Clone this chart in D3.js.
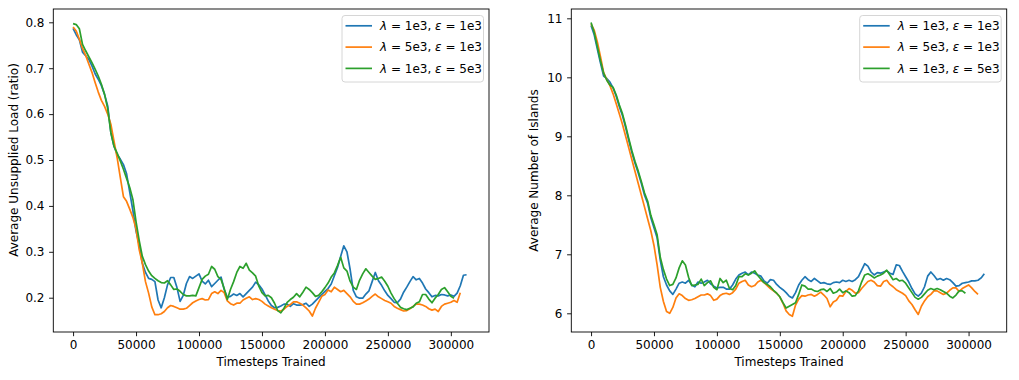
<!DOCTYPE html>
<html>
<head>
<meta charset="utf-8">
<script src="https://cdn.jsdelivr.net/npm/d3@7/dist/d3.min.js"></script>
<style>
  body { margin: 0; background: #fff; }
  svg { display: block; font-family: "DejaVu Sans", sans-serif; }
</style>
</head>
<body>
<div id="chart"></div>
<script>
var width = 1019, height = 380;

// one logged point every STEP timesteps, first one at 0
var STEP = 2500;

// legend parts: lambda and epsilon per run
var lambdaVals = ["1e3", "5e3", "1e3"];
var epsVals    = ["1e3", "1e3", "5e3"];
var colors = ["#1f77b4", "#ff7f0e", "#2ca02c"];

var xTicks = [0, 50000, 100000, 150000, 200000, 250000, 300000];
var loadTicks = [0.2, 0.3, 0.4, 0.5, 0.6, 0.7, 0.8];
var islandTicks = [6, 7, 8, 9, 10, 11];

// ---- average unsupplied load (ratio) ----
var loadBlue = [
  0.787, 0.773, 0.762, 0.735, 0.727, 0.719, 0.705, 0.688, 0.676, 0.662,
  0.643, 0.618, 0.560, 0.530, 0.512, 0.502, 0.490, 0.470, 0.430, 0.390,
  0.345, 0.315, 0.275, 0.255, 0.242, 0.240, 0.235, 0.195, 0.178, 0.200,
  0.228, 0.244, 0.244, 0.222, 0.192, 0.205, 0.231, 0.246, 0.242, 0.247,
  0.252, 0.236, 0.230, 0.238, 0.224, 0.231, 0.238, 0.245, 0.218, 0.201,
  0.203, 0.208, 0.205, 0.209, 0.202, 0.209, 0.216, 0.223, 0.234, 0.228,
  0.219, 0.206, 0.193, 0.183, 0.178, 0.179, 0.182, 0.186, 0.186, 0.181,
  0.187, 0.184, 0.184, 0.185, 0.188, 0.181, 0.186, 0.193, 0.200, 0.207,
  0.214, 0.220, 0.230, 0.248, 0.266, 0.290, 0.313, 0.300, 0.262, 0.216,
  0.202, 0.199, 0.199, 0.208, 0.215, 0.235, 0.255, 0.237, 0.227, 0.215,
  0.205, 0.198, 0.190, 0.189, 0.197, 0.212, 0.223, 0.235, 0.246, 0.239,
  0.242, 0.232, 0.219, 0.211, 0.202, 0.205, 0.204, 0.207, 0.206, 0.204,
  0.206, 0.203, 0.210, 0.226, 0.249, 0.250
];
var loadOrange = [
  0.790, 0.781, 0.763, 0.743, 0.728, 0.709, 0.691, 0.669, 0.648, 0.630,
  0.617, 0.600, 0.578, 0.541, 0.505, 0.462, 0.420, 0.410, 0.393, 0.375,
  0.350, 0.305, 0.275, 0.235, 0.210, 0.180, 0.163, 0.163, 0.165, 0.170,
  0.178, 0.183, 0.181, 0.178, 0.175, 0.175, 0.177, 0.183, 0.189, 0.193,
  0.196, 0.198, 0.195, 0.196, 0.209, 0.213, 0.209, 0.216, 0.211, 0.193,
  0.187, 0.184, 0.188, 0.188, 0.195, 0.199, 0.202, 0.196, 0.198, 0.196,
  0.192, 0.186, 0.182, 0.178, 0.175, 0.172, 0.171, 0.175, 0.181, 0.185,
  0.191, 0.191, 0.188, 0.184, 0.178, 0.171, 0.160, 0.177, 0.190, 0.203,
  0.207, 0.217, 0.213, 0.223, 0.218, 0.213, 0.216, 0.209, 0.202, 0.192,
  0.186, 0.186, 0.189, 0.193, 0.197, 0.203, 0.208, 0.202, 0.198, 0.194,
  0.191, 0.188, 0.181, 0.177, 0.174, 0.171, 0.172, 0.176, 0.181, 0.186,
  0.186, 0.184, 0.181, 0.176, 0.173, 0.175, 0.170, 0.181, 0.186, 0.188,
  0.190, 0.194, 0.190, 0.211
];
var loadGreen = [
  0.797, 0.795, 0.786, 0.752, 0.738, 0.725, 0.712, 0.698, 0.683, 0.665,
  0.643, 0.612, 0.560, 0.530, 0.515, 0.498, 0.480, 0.460, 0.440, 0.414,
  0.366, 0.325, 0.290, 0.272, 0.258, 0.248, 0.242, 0.237, 0.233, 0.232,
  0.237, 0.228, 0.218, 0.219, 0.214, 0.207, 0.204, 0.204, 0.205, 0.204,
  0.222, 0.240, 0.247, 0.251, 0.268, 0.262, 0.246, 0.240, 0.220, 0.196,
  0.218, 0.235, 0.255, 0.268, 0.264, 0.275, 0.260, 0.254, 0.247, 0.225,
  0.211, 0.204, 0.205, 0.200, 0.188, 0.172, 0.167, 0.177, 0.190, 0.196,
  0.201, 0.209, 0.202, 0.212, 0.223, 0.218, 0.211, 0.203, 0.205, 0.213,
  0.222, 0.232, 0.245, 0.254, 0.270, 0.288, 0.265, 0.258, 0.236, 0.223,
  0.218, 0.238, 0.252, 0.263, 0.255, 0.247, 0.240, 0.242, 0.245, 0.236,
  0.225, 0.210, 0.198, 0.188, 0.179, 0.176, 0.174, 0.177, 0.180, 0.188,
  0.191, 0.207, 0.207, 0.197, 0.189, 0.199, 0.207, 0.218, 0.222, 0.213,
  0.203, 0.199
];

// ---- average number of islands ----
var islandsBlue = [
  10.88, 10.72, 10.48, 10.24, 10.02, 9.98, 9.92, 9.82, 9.68, 9.50,
  9.35, 9.15, 8.93, 8.72, 8.54, 8.38, 8.20, 8.00, 7.86, 7.62,
  7.45, 7.28, 6.90, 6.62, 6.48, 6.38, 6.32, 6.41, 6.51, 6.53,
  6.51, 6.56, 6.48, 6.45, 6.53, 6.51, 6.53, 6.56, 6.50, 6.46,
  6.43, 6.44, 6.44, 6.41, 6.41, 6.48, 6.58, 6.65, 6.68, 6.70,
  6.65, 6.70, 6.68, 6.65, 6.63, 6.55, 6.51, 6.57, 6.56, 6.49,
  6.44, 6.40, 6.35, 6.29, 6.26, 6.35, 6.48, 6.56, 6.62, 6.57,
  6.54, 6.59, 6.55, 6.51, 6.52, 6.50, 6.49, 6.52, 6.53, 6.52,
  6.56, 6.54, 6.56, 6.54, 6.57, 6.62, 6.73, 6.84, 6.80, 6.70,
  6.65, 6.69, 6.68, 6.70, 6.72, 6.68, 6.66, 6.82, 6.81, 6.71,
  6.62, 6.53, 6.42, 6.33, 6.29, 6.34, 6.45, 6.63, 6.70, 6.64,
  6.57, 6.59, 6.56, 6.59, 6.57, 6.52, 6.46, 6.47, 6.51, 6.52,
  6.53, 6.55, 6.55, 6.56, 6.60, 6.67
];
var islandsOrange = [
  10.90, 10.80, 10.60, 10.35, 10.08, 9.96, 9.86, 9.72, 9.55, 9.38,
  9.20, 9.00, 8.80, 8.60, 8.40, 8.20, 8.00, 7.80, 7.60, 7.40,
  7.15, 6.82, 6.44, 6.20, 6.03, 6.00, 6.10, 6.26, 6.33, 6.30,
  6.25, 6.22, 6.23, 6.25, 6.28, 6.31, 6.31, 6.33, 6.30, 6.22,
  6.24, 6.30, 6.33, 6.34, 6.32, 6.35, 6.41, 6.51, 6.54, 6.56,
  6.48, 6.45, 6.47, 6.53, 6.56, 6.52, 6.47, 6.42, 6.38, 6.34,
  6.28, 6.17, 6.04, 5.98, 5.95, 6.14, 6.24, 6.30, 6.29, 6.31,
  6.32, 6.29, 6.32, 6.36, 6.31, 6.25, 6.11, 6.19, 6.22, 6.30,
  6.29, 6.37, 6.42, 6.39, 6.34, 6.35, 6.42, 6.48, 6.54, 6.56,
  6.53, 6.47, 6.46, 6.54, 6.56, 6.49, 6.45, 6.40, 6.37, 6.34,
  6.30, 6.21, 6.15, 6.06, 5.98, 6.12, 6.21, 6.28, 6.32, 6.38,
  6.38, 6.35, 6.32, 6.34, 6.39, 6.43, 6.43, 6.37, 6.42, 6.45,
  6.48, 6.43, 6.37, 6.32
];
var islandsGreen = [
  10.93, 10.76, 10.52, 10.28, 10.07, 9.95, 9.87, 9.83, 9.70, 9.53,
  9.38, 9.18, 8.96, 8.75, 8.57, 8.41, 8.23, 8.04, 7.90, 7.66,
  7.50, 7.33, 6.95, 6.74, 6.58, 6.47, 6.49, 6.60, 6.77, 6.89,
  6.82, 6.61, 6.47, 6.48, 6.49, 6.58, 6.47, 6.52, 6.55, 6.44,
  6.40, 6.59, 6.52, 6.56, 6.42, 6.40, 6.47, 6.62, 6.62, 6.67,
  6.65, 6.68, 6.72, 6.64, 6.58, 6.52, 6.49, 6.45, 6.39, 6.34,
  6.28, 6.18, 6.09, 6.12, 6.15, 6.18, 6.32, 6.48, 6.46, 6.41,
  6.41, 6.38, 6.37, 6.40, 6.41, 6.37, 6.42, 6.34, 6.36, 6.41,
  6.35, 6.38, 6.35, 6.29, 6.30, 6.38, 6.53, 6.65, 6.67, 6.64,
  6.60, 6.63, 6.65, 6.68, 6.73, 6.65, 6.57, 6.59, 6.55, 6.56,
  6.51, 6.43, 6.35, 6.27, 6.24, 6.27, 6.33, 6.39, 6.42, 6.40,
  6.42, 6.40, 6.37, 6.34, 6.29, 6.26, 6.31, 6.38, 6.38, 6.34
];

var svg = d3.select("#chart").append("svg")
    .attr("width", width)
    .attr("height", height);

var top0 = 9, bottom0 = 332;
var tickLen = 4.2;

function drawPanel(p) {
  var x = d3.scaleLinear().domain([-15700, 330300]).range([p.left, p.right]);
  var y = d3.scaleLinear().domain(p.yDomain).range([bottom0, top0]);

  var g = svg.append("g");

  var line = d3.line()
      .x(function(d, i) { return x(i * STEP); })
      .y(function(d) { return y(d); });

  g.selectAll(".run")
    .data(p.series)
    .enter().append("path")
      .attr("class", "run")
      .attr("d", line)
      .attr("fill", "none")
      .attr("stroke", function(d, i) { return colors[i]; })
      .attr("stroke-width", 1.7)
      .attr("stroke-linejoin", "round");

  var xAxis = g.append("g")
      .attr("transform", "translate(0," + bottom0 + ")")
      .call(d3.axisBottom(x).tickValues(xTicks).tickFormat(d3.format("d"))
        .tickSize(tickLen).tickSizeOuter(0).tickPadding(4.6));
  var yAxis = g.append("g")
      .attr("transform", "translate(" + p.left + ",0)")
      .call(d3.axisLeft(y).tickValues(p.yTicks).tickFormat(p.yFormat)
        .tickSize(tickLen).tickSizeOuter(0).tickPadding(4.6));

  [xAxis, yAxis].forEach(function(a) {
    a.select(".domain").remove();
    a.attr("font-family", "DejaVu Sans").attr("font-size", 12);
    a.selectAll("line").attr("stroke", "#000").attr("stroke-width", 0.9);
    a.selectAll("text").attr("fill", "#000");
  });

  // frame
  g.append("rect")
      .attr("x", p.left).attr("y", top0)
      .attr("width", p.right - p.left).attr("height", bottom0 - top0)
      .attr("fill", "none").attr("stroke", "#000").attr("stroke-width", 0.9);

  g.append("text")
      .attr("x", (p.left + p.right) / 2).attr("y", 366)
      .attr("text-anchor", "middle").attr("font-size", 12)
      .text("Timesteps Trained");

  g.append("text")
      .attr("transform", "translate(" + p.ylabelX + "," + p.ylabelY + ") rotate(-90)")
      .attr("text-anchor", "middle").attr("font-size", 12)
      .text(p.ylabel);

  // legend
  var lw = 141.5, lh = 66.5;
  var lx = p.right - 6 - lw, ly = top0 + 6;
  var leg = g.append("g").attr("transform", "translate(" + lx + "," + ly + ")");
  leg.append("rect")
      .attr("x", 0.5).attr("y", 0.5).attr("width", lw).attr("height", lh)
      .attr("rx", 3).attr("fill", "#fff").attr("fill-opacity", 0.8)
      .attr("stroke", "#d6d6d6").attr("stroke-width", 1);
  var rows = leg.selectAll(".entry")
      .data(lambdaVals)
    .enter().append("g")
      .attr("class", "entry")
      .attr("transform", function(d, i) { return "translate(0," + (10.8 + i * 21.3) + ")"; });
  rows.append("line")
      .attr("x1", 4).attr("x2", 30.5)
      .attr("stroke", function(d, i) { return colors[i]; })
      .attr("stroke-width", 1.7);
  var t = rows.append("text")
      .attr("x", 38.5).attr("dy", "0.36em").attr("font-size", 12);
  t.append("tspan").attr("font-style", "italic").text("\u03bb");
  t.append("tspan").text(function(d) { return " = " + d + ", "; });
  t.append("tspan").attr("font-style", "italic").text("\u03b5");
  t.append("tspan").text(function(d, i) { return " = " + epsVals[i]; });
}

drawPanel({
  left: 53.3, right: 489,
  yDomain: [0.1253, 0.829],
  yTicks: loadTicks, yFormat: d3.format(".1f"),
  ylabel: "Average Unsupplied Load (ratio)", ylabelX: 18, ylabelY: 160,
  series: [loadBlue, loadOrange, loadGreen]
});

drawPanel({
  left: 571.3, right: 1006.7,
  yDomain: [5.683, 11.158],
  yTicks: islandTicks, yFormat: d3.format("d"),
  ylabel: "Average Number of Islands", ylabelX: 537.5, ylabelY: 170.5,
  series: [islandsBlue, islandsOrange, islandsGreen]
});
</script>
</body>
</html>
